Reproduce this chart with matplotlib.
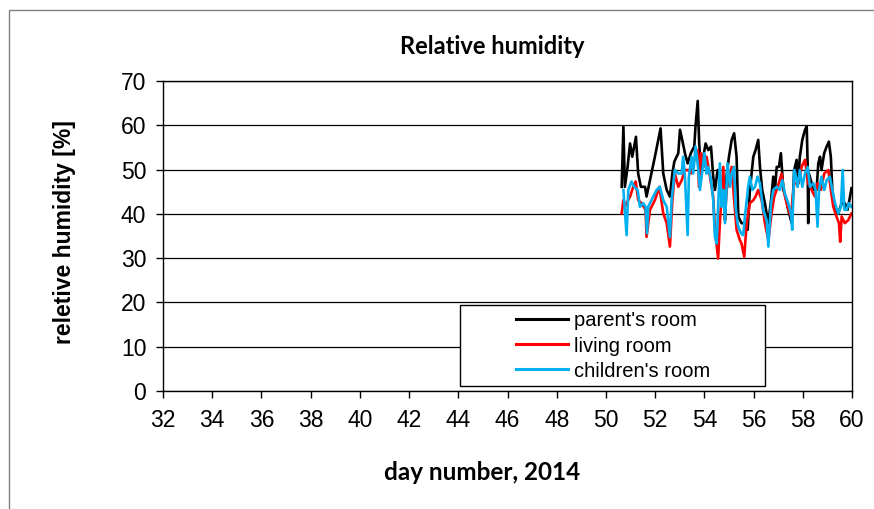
import matplotlib
matplotlib.use("Agg")
import matplotlib.pyplot as plt
from matplotlib.patches import Rectangle

# ==========================================
# data
# ==========================================
parent_day = [50.64, 50.71, 50.77, 50.88, 50.98, 51.07, 51.22, 51.31, 51.42, 51.59, 51.65, 51.79,
              51.99, 52.22, 52.33, 52.47, 52.60, 52.70, 52.78, 52.94, 53.01, 53.10, 53.21, 53.32,
              53.45, 53.59, 53.64, 53.73, 53.79, 53.86, 53.96, 54.05, 54.16, 54.27, 54.36, 54.43,
              54.54, 54.63, 54.70, 54.77, 54.84, 54.90, 55.00, 55.11, 55.21, 55.31, 55.38, 55.51,
              55.65, 55.76, 55.85, 55.99, 56.08, 56.19, 56.26, 56.35, 56.46, 56.60, 56.71, 56.80,
              56.87, 56.94, 57.03, 57.11, 57.21, 57.30, 57.41, 57.55, 57.65, 57.75, 57.82, 57.88,
              57.98, 58.09, 58.16, 58.20, 58.22, 58.25, 58.36, 58.47, 58.56, 58.63, 58.70, 58.76,
              58.87, 58.97, 59.06, 59.14, 59.20, 59.31, 59.44, 59.58, 59.71, 59.82, 59.92, 59.98]
parent_rh = [46.1, 59.7, 46.1, 50.6, 55.9, 52.9, 57.4, 49.1, 46.1, 46.1, 43.9, 47.6,
             52.9, 59.3, 49.1, 45.4, 43.9, 49.1, 51.8, 53.7, 59.0, 56.7, 53.7, 51.4,
             53.7, 55.2, 59.7, 65.5, 55.9, 49.9, 52.9, 55.9, 54.4, 55.2, 48.4, 45.4,
             49.9, 47.6, 43.1, 46.9, 38.6, 48.4, 52.9, 56.7, 58.2, 52.9, 39.4, 37.9,
             37.9, 36.4, 45.4, 52.9, 54.4, 56.7, 50.6, 45.4, 42.4, 37.9, 43.1, 48.4,
             45.4, 50.6, 50.6, 53.7, 45.4, 43.9, 40.9, 37.9, 49.9, 52.2, 46.9, 52.9,
             56.7, 59.0, 59.7, 50.6, 37.9, 49.1, 46.9, 45.4, 45.4, 51.4, 52.9, 49.9,
             53.7, 55.2, 56.3, 52.9, 45.4, 40.9, 40.1, 42.4, 42.4, 40.9, 43.9, 45.8]

living_day = [50.64, 50.71, 50.77, 50.84, 50.98, 51.11, 51.21, 51.31, 51.45, 51.61, 51.65, 51.79,
              51.99, 52.17, 52.33, 52.47, 52.60, 52.70, 52.80, 52.94, 53.08, 53.21, 53.35, 53.45,
              53.55, 53.64, 53.73, 53.78, 53.86, 53.96, 54.09, 54.23, 54.36, 54.43, 54.56, 54.63,
              54.77, 54.84, 54.90, 55.00, 55.11, 55.21, 55.31, 55.44, 55.51, 55.62, 55.72, 55.85,
              55.99, 56.08, 56.19, 56.33, 56.46, 56.60, 56.73, 56.84, 56.98, 57.14, 57.25, 57.38,
              57.52, 57.65, 57.82, 57.95, 58.09, 58.16, 58.22, 58.36, 58.49, 58.60, 58.74, 58.87,
              59.04, 59.14, 59.24, 59.37, 59.47, 59.52, 59.58, 59.71, 59.85, 59.98]
living_rh = [40.1, 43.1, 41.6, 42.4, 43.9, 46.1, 47.3, 43.1, 42.4, 40.9, 34.8, 40.9,
             43.1, 46.1, 40.1, 37.9, 32.6, 43.1, 49.1, 46.1, 47.6, 49.9, 49.9, 49.1,
             51.4, 52.9, 54.4, 46.1, 53.7, 50.6, 52.9, 48.4, 43.9, 36.4, 29.9, 37.9,
             50.6, 38.6, 45.4, 47.6, 50.6, 43.1, 36.4, 34.1, 33.3, 30.3, 37.9, 42.4,
             43.1, 43.9, 45.4, 43.1, 37.9, 34.1, 40.1, 43.9, 46.1, 49.1, 44.6, 41.6,
             39.4, 46.9, 46.9, 50.6, 52.2, 49.1, 46.9, 45.4, 43.9, 46.9, 45.4, 49.1,
             49.9, 45.4, 41.6, 39.4, 37.9, 33.7, 39.4, 37.9, 38.6, 40.1]

children_day = [50.71, 50.84, 50.91, 51.04, 51.15, 51.29, 51.38, 51.52, 51.61, 51.67, 51.72, 51.92,
                52.06, 52.19, 52.33, 52.47, 52.60, 52.67, 52.80, 52.94, 53.08, 53.14, 53.21, 53.32,
                53.37, 53.48, 53.55, 53.64, 53.73, 53.82, 53.89, 54.00, 54.09, 54.16, 54.27, 54.36,
                54.43, 54.50, 54.56, 54.63, 54.70, 54.77, 54.84, 54.94, 55.04, 55.11, 55.21, 55.27,
                55.35, 55.38, 55.49, 55.58, 55.65, 55.78, 55.85, 55.95, 56.06, 56.16, 56.26, 56.39,
                56.53, 56.60, 56.71, 56.80, 56.94, 57.07, 57.17, 57.27, 57.41, 57.52, 57.57, 57.65,
                57.75, 57.79, 57.88, 57.98, 58.09, 58.20, 58.29, 58.43, 58.52, 58.60, 58.66, 58.76,
                58.87, 58.97, 59.10, 59.20, 59.31, 59.44, 59.55, 59.62, 59.69, 59.78, 59.87, 59.98]
children_rh = [45.4, 35.2, 45.4, 47.3, 46.1, 45.4, 41.6, 42.4, 41.6, 35.6, 41.6, 43.9,
               45.4, 46.1, 43.1, 41.6, 34.8, 43.1, 49.9, 49.1, 49.1, 52.9, 48.4, 35.2,
               48.4, 52.9, 49.1, 55.2, 51.4, 45.4, 48.4, 53.7, 49.1, 50.6, 47.6, 43.1,
               34.8, 33.3, 41.6, 51.4, 41.6, 45.4, 37.9, 51.4, 46.1, 49.1, 50.6, 41.6,
               37.9, 37.1, 35.6, 35.2, 39.4, 46.1, 48.4, 45.4, 46.1, 48.4, 46.9, 40.9,
               38.6, 32.6, 42.4, 45.4, 46.1, 45.4, 47.6, 44.6, 42.4, 40.1, 36.4, 49.9,
               47.6, 46.1, 49.9, 46.1, 49.1, 50.6, 46.1, 46.9, 45.4, 37.1, 45.4, 48.4,
               45.4, 47.6, 48.4, 45.4, 42.4, 40.1, 41.6, 49.9, 40.9, 40.9, 42.4, 41.6]

x_ticks = list(range(32, 61, 2))
y_ticks = list(range(0, 71, 10))

# ==========================================
# plot
# ==========================================
W, H = 874, 509
fig = plt.figure(figsize=(W / 100, H / 100), dpi=100)
ax = fig.add_axes([163 / W, 1 - 391 / H, (852 - 163) / W, (391 - 81) / H])

ax.plot(parent_day, parent_rh, color="black", linewidth=1.9, label="parent's room")
ax.plot(living_day, living_rh, color="#FF0000", linewidth=1.9, label="living room")
ax.plot(children_day, children_rh, color="#00B0F0", linewidth=1.9, label="children's room")

ax.set_xlim(32, 60)
ax.set_ylim(0, 70)
ax.set_xticks(x_ticks)
ax.set_yticks(y_ticks)
ax.tick_params(direction="out", length=5, width=1, labelsize=16.5, pad=7)
for lab in ax.get_xticklabels() + ax.get_yticklabels():
    lab.set_fontfamily("Liberation Sans")
ax.tick_params(axis="x", pad=8)
ax.grid(axis="y", color="black", linewidth=0.9)
ax.set_axisbelow(True)
for sp in ax.spines.values():
    sp.set_color("black")
    sp.set_linewidth(1.0)

# legend box drawn separately so the entries can sit centred in it
def px2ax(x, y):
    return (x - 163) / (852 - 163), (391 - y) / (391 - 81)

bx0, by0 = px2ax(460, 386)
bx1, by1 = px2ax(765, 305)
ax.add_patch(Rectangle((bx0, by0), bx1 - bx0, by1 - by0, transform=ax.transAxes,
                       facecolor="white", edgecolor="black", linewidth=1.0, zorder=5))
leg = ax.legend(loc="center", bbox_to_anchor=px2ax(613, 346), frameon=False,
                prop={"family": "Liberation Sans", "size": 14.5}, handlelength=2.6,
                handletextpad=0.3, labelspacing=0.3, borderpad=0, borderaxespad=0)
leg.set_zorder(6)
for h in leg.get_lines():
    h.set_linewidth(2.2)

fig.text(492 / W, 1 - 46 / H, "Relative humidity", ha="center", va="center",
         fontsize=17, fontweight="bold", family="Lato")
fig.text(482 / W, 1 - 472 / H, "day number, 2014", ha="center", va="center",
         fontsize=17.5, fontweight="bold", family="Lato")
fig.text(65 / W, 1 - 232 / H, "reletive humidity [%]", ha="center", va="center",
         rotation=90, fontsize=16.5, fontweight="bold", family="Liberation Sans")

# outer chart border (cut off on right and bottom)
fig.add_artist(Rectangle((9 / W, -0.2), 1.2, 1.2 - 10 / H, transform=fig.transFigure,
                         fill=False, edgecolor="#7f7f7f", linewidth=1.0))

fig.savefig("out.png", dpi=100)
